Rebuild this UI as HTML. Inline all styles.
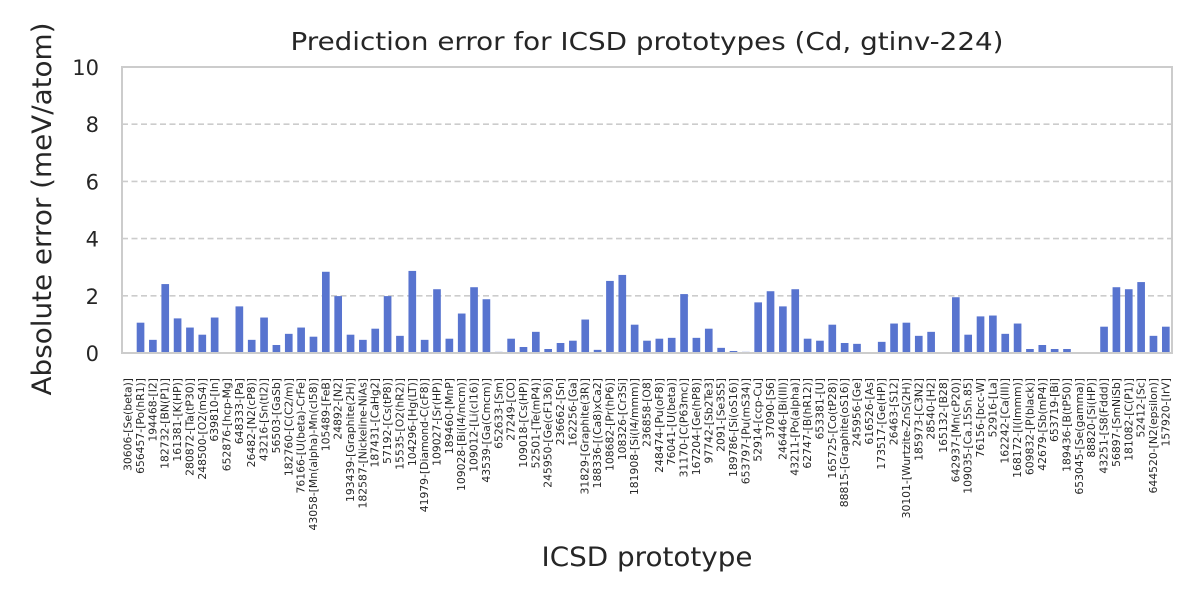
<!DOCTYPE html>
<html><head><meta charset="utf-8"><style>
html,body{margin:0;padding:0;background:#fff;}
svg{display:block;font-family:"DejaVu Sans","Liberation Sans",sans-serif;}
</style></head><body>
<svg id="chart" width="1200" height="600" viewBox="0 0 1200 600">
<text x="647" y="50" text-anchor="middle" font-size="25" textLength="713" lengthAdjust="spacingAndGlyphs" fill="#262626">Prediction error for ICSD prototypes (Cd, gtinv-224)</text>
<text transform="translate(51,209) rotate(-90)" text-anchor="middle" font-size="27" textLength="373" lengthAdjust="spacingAndGlyphs" fill="#262626">Absolute error (meV/atom)</text>
<text x="647" y="566" text-anchor="middle" font-size="27" textLength="211" lengthAdjust="spacingAndGlyphs" fill="#262626">ICSD prototype</text>
<g id="grid"></g><g id="bars"></g><g id="yticks"></g><g id="xticks"></g>
<rect x="122" y="67" width="1050" height="286" fill="none" stroke="#cccccc" stroke-width="2"/>
</svg>
<script>
const categories = ["30606-[Se(beta)]","656457-[Po(hR1)]","194468-[I2]","182732-[BN(P1)]","161381-[K(HP)]","280872-[Ta(tP30)]","248500-[O2(mS4)]","639810-[In]","652876-[hcp-Mg]","648333-[Pa]","26482-[N2(cP8)]","43216-[Sn(tI2)]","56503-[GaSb]","182760-[C(C2/m)]","76166-[U(beta)-CrFe]","43058-[Mn(alpha)-Mn(cI58)]","105489-[FeB]","24892-[N2]","193439-[Graphite(2H)]","182587-[Nickeline-NiAs]","187431-[CaHg2]","57192-[Cs(tP8)]","15535-[O2(hR2)]","104296-[Hg(LT)]","41979-[Diamond-C(cF8)]","109027-[Sr(HP)]","189460-[MnP]","109028-[Bi(I4/mcm)]","109012-[Li(cI16)]","43539-[Ga(Cmcm)]","652633-[Sm]","27249-[CO]","109018-[Cs(HP)]","52501-[Te(mP4)]","245950-[Ge(cF136)]","236662-[Sn]","162256-[Ga]","31829-[Graphite(3R)]","188336-[(Ca8)xCa2]","108682-[Pr(hP6)]","108326-[Cr3Si]","181908-[Si(I4/mmm)]","236858-[O8]","248474-[Pu(oF8)]","76041-[U(beta)]","31170-[C(P63mc)]","167204-[Ge(hP8)]","97742-[Sb2Te3]","2091-[Se3S5]","189786-[Si(oS16)]","653797-[Pu(mS34)]","52914-[ccp-Cu]","37090-[S6]","246446-[Bi(III)]","43211-[Po(alpha)]","62747-[B(hR12)]","653381-[U]","165725-[Co(tP28)]","88815-[Graphite(oS16)]","245956-[Ge]","616526-[As]","173517-[Ge(HP)]","26463-[S12]","30101-[Wurtzite-ZnS(2H)]","185973-[C3N2]","28540-[H2]","165132-[B28]","642937-[Mn(cP20)]","109035-[Ca.15Sn.85]","76156-[bcc-W]","52916-[La]","162242-[Ca(III)]","168172-[I(Immm)]","609832-[P(black)]","42679-[Sb(mP4)]","653719-[Bi]","189436-[B(tP50)]","653045-[Se(gamma)]","88820-[Si(HP)]","43251-[S8(Fddd)]","56897-[SmNiSb]","181082-[C(P1)]","52412-[Sc]","644520-[N2(epsilon)]","157920-[IrV]"];
const errors = [0,1.06,0.46,2.41,1.21,0.89,0.64,1.24,0,1.63,0.46,1.24,0.28,0.67,0.89,0.57,2.84,1.99,0.64,0.46,0.85,1.99,0.60,2.87,0.46,2.23,0.50,1.38,2.30,1.88,0.04,0.50,0.21,0.74,0.14,0.35,0.43,1.17,0.11,2.52,2.73,0.99,0.43,0.50,0.53,2.06,0.53,0.85,0.18,0.07,0.04,1.77,2.16,1.63,2.23,0.50,0.43,0.99,0.35,0.32,0,0.39,1.03,1.06,0.60,0.74,0,1.95,0.64,1.28,1.31,0.67,1.03,0.14,0.28,0.14,0.14,0,0,0.92,2.30,2.23,2.48,0.60,0.92];
const yTicks = [0,2,4,6,8,10];
const NS="http://www.w3.org/2000/svg";
const X0=122,X1=1172,Y0=353,Y1=67,YMAX=10;
const slot=(X1-X0)/categories.length;
const xc=i=>X0+slot*(i+0.5);
const y=v=>Y0-(v/YMAX)*(Y0-Y1);
function mk(t,a){const e=document.createElementNS(NS,t);for(const k in a)e.setAttribute(k,a[k]);return e;}
const grid=document.getElementById('grid'),yt=document.getElementById('yticks');
yTicks.forEach(v=>{
  if(v>0&&v<YMAX){const l=mk('line',{x1:X0,x2:X1,y1:y(v),y2:y(v),stroke:'#cccccc','stroke-width':1.6,'stroke-dasharray':'6,3.5'});
  
  
  grid.appendChild(l);}
  const t=mk('text',{x:99,y:y(v)+8,'text-anchor':'end','font-size':21,fill:'#262626'});
  t.textContent=v;
  
  
  yt.appendChild(t);
});
const bars=document.getElementById('bars'),xt=document.getElementById('xticks');
const bw=slot*0.62;
categories.forEach((c,i)=>{
  const v=errors[i];
  const r=mk('rect',{x:xc(i)-bw/2,y:y(v),width:bw,height:Y0-y(v),fill:'#5874cf'});
  
  
  bars.appendChild(r);
  const t=mk('text',{transform:`translate(${xc(i)+3.5},378) rotate(-90)`,'text-anchor':'end','font-size':10.8,fill:'#262626'});
  t.textContent=c;
  
  
  xt.appendChild(t);
});
</script>
</body></html>
